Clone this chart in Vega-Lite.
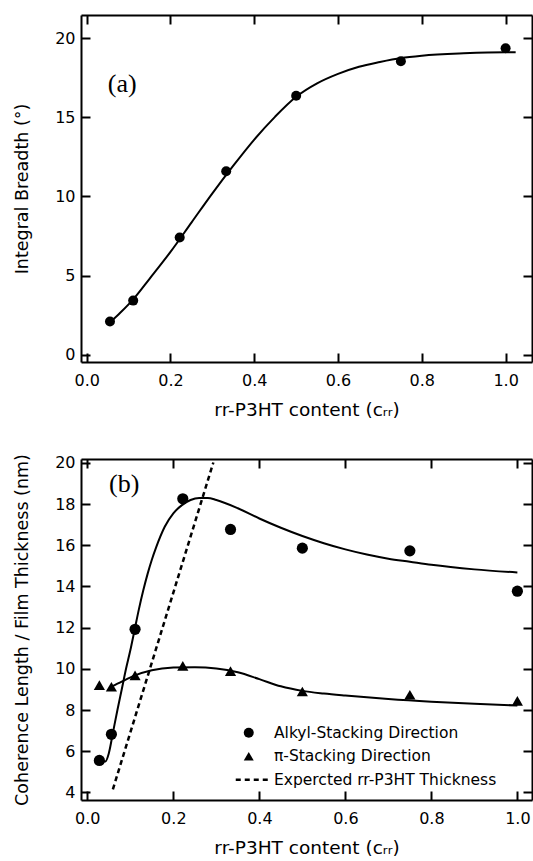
{
  "$schema": "https://vega.github.io/schema/vega-lite/v6.json",
  "background": "white",
  "padding": {"left": 13, "top": 14, "right": 0, "bottom": 0},
  "spacing": 34,
  "config": {
    "font": "DejaVu Sans",
    "view": {"stroke": null},
    "axis": {
      "domainColor": "black", "domainWidth": 2,
      "tickColor": "black", "tickWidth": 2, "tickSize": -9,
      "labelFont": "DejaVu Sans", "labelFontSize": 16, "labelColor": "black",
      "titleFont": "DejaVu Sans", "titleFontSize": 17.5, "titleFontWeight": "normal", "titleColor": "black",
      "grid": false, "labelPadding": 15
    },
    "axisX": {"labelPadding": 19, "titlePadding": 12, "titleFontSize": 18.5},
    "axisY": {"titlePadding": 23},
    "legend": {"labelFont": "DejaVu Sans", "labelFontSize": 15.5, "labelColor": "black", "labelLimit": 400}
  },
  "vconcat": [
    {
      "width": 451,
      "height": 347,
      "layer": [
        {
          "data": {"values": [
            {"c": 0.0556, "v": 2.1}, {"c": 0.111, "v": 3.42}, {"c": 0.222, "v": 7.41},
            {"c": 0.333, "v": 11.6}, {"c": 0.5, "v": 16.37}, {"c": 0.75, "v": 18.55}, {"c": 1.0, "v": 19.37}
          ]},
          "mark": {"type": "point", "filled": true, "color": "black", "opacity": 1, "size": 100},
          "encoding": {
            "x": {"field": "c", "type": "quantitative",
                  "scale": {"domain": [-0.0136, 1.063], "nice": false, "zero": false},
                  "axis": {"values": [0, 0.2, 0.4, 0.6, 0.8, 1.0], "format": ".1f", "title": "rr-P3HT content (cᵣᵣ)"}},
            "y": {"field": "v", "type": "quantitative",
                  "scale": {"domain": [-0.46, 21.47], "nice": false, "zero": false},
                  "axis": {"values": [0, 5, 10, 15, 20], "title": "Integral Breadth (°)"}}
          }
        },
        {
          "data": {"values": [
            {"c": 0.058, "v": 2.1}, {"c": 0.08, "v": 2.65}, {"c": 0.111, "v": 3.5}, {"c": 0.15, "v": 4.8},
            {"c": 0.2, "v": 6.5}, {"c": 0.25, "v": 8.35}, {"c": 0.3, "v": 10.2}, {"c": 0.35, "v": 11.95},
            {"c": 0.4, "v": 13.6}, {"c": 0.45, "v": 15.05}, {"c": 0.5, "v": 16.3}, {"c": 0.55, "v": 17.15},
            {"c": 0.6, "v": 17.75}, {"c": 0.65, "v": 18.2}, {"c": 0.7, "v": 18.5}, {"c": 0.75, "v": 18.75},
            {"c": 0.8, "v": 18.9}, {"c": 0.9, "v": 19.05}, {"c": 1.0, "v": 19.12}, {"c": 1.024, "v": 19.12}
          ]},
          "mark": {"type": "line", "color": "black", "strokeWidth": 2, "interpolate": "monotone"},
          "encoding": {
            "x": {"field": "c", "type": "quantitative",
                  "axis": {"orient": "top", "labels": false, "title": null, "values": [0, 0.2, 0.4, 0.6, 0.8, 1.0]}},
            "y": {"field": "v", "type": "quantitative",
                  "axis": {"orient": "right", "labels": false, "title": null, "values": [0, 5, 10, 15, 20]}}
          }
        },
        {
          "data": {"values": [{}]},
          "mark": {"type": "text", "font": "Liberation Serif", "fontSize": 26, "align": "left", "baseline": "alphabetic", "color": "black"},
          "encoding": {
            "x": {"datum": 0.0504, "type": "quantitative", "axis": null},
            "y": {"datum": 16.63, "type": "quantitative", "axis": null},
            "text": {"value": "(a)"}
          }
        }
      ],
      "resolve": {"axis": {"x": "independent", "y": "independent"}}
    },
    {
      "width": 451,
      "height": 341,
      "layer": [
        {
          "data": {"values": [
            {"c": 0.028, "v": 5.55, "series": "Alkyl-Stacking Direction"},
            {"c": 0.056, "v": 6.82, "series": "Alkyl-Stacking Direction"},
            {"c": 0.111, "v": 11.92, "series": "Alkyl-Stacking Direction"},
            {"c": 0.222, "v": 18.26, "series": "Alkyl-Stacking Direction"},
            {"c": 0.333, "v": 16.77, "series": "Alkyl-Stacking Direction"},
            {"c": 0.5, "v": 15.86, "series": "Alkyl-Stacking Direction"},
            {"c": 0.75, "v": 15.73, "series": "Alkyl-Stacking Direction"},
            {"c": 1.0, "v": 13.77, "series": "Alkyl-Stacking Direction"},
            {"c": 0.028, "v": 9.21, "series": "π-Stacking Direction"},
            {"c": 0.056, "v": 9.13, "series": "π-Stacking Direction"},
            {"c": 0.111, "v": 9.68, "series": "π-Stacking Direction"},
            {"c": 0.222, "v": 10.14, "series": "π-Stacking Direction"},
            {"c": 0.333, "v": 9.89, "series": "π-Stacking Direction"},
            {"c": 0.5, "v": 8.9, "series": "π-Stacking Direction"},
            {"c": 0.75, "v": 8.74, "series": "π-Stacking Direction"},
            {"c": 1.0, "v": 8.44, "series": "π-Stacking Direction"}
          ]},
          "mark": {"type": "point", "filled": true, "color": "black", "opacity": 1, "size": 125},
          "encoding": {
            "x": {"field": "c", "type": "quantitative",
                  "scale": {"domain": [-0.0147, 1.034], "nice": false, "zero": false},
                  "axis": {"values": [0, 0.2, 0.4, 0.6, 0.8, 1.0], "format": ".1f", "title": "rr-P3HT content (cᵣᵣ)"}},
            "y": {"field": "v", "type": "quantitative",
                  "scale": {"domain": [3.63, 20.19], "nice": false, "zero": false},
                  "axis": {"values": [4, 6, 8, 10, 12, 14, 16, 18, 20], "title": "Coherence Length / Film Thickness (nm)"}},
            "shape": {"field": "series", "type": "nominal",
                      "scale": {"domain": ["Alkyl-Stacking Direction", "π-Stacking Direction", "Expercted rr-P3HT Thickness"],
                                "range": ["circle", "triangle-up", "M-2.6,-0.25H-1.6V0.25H-2.6ZM-0.8,-0.25H0.2V0.25H-0.8ZM1,-0.25H2V0.25H1ZM2.8,-0.25H3.8V0.25H2.8Z"]},
                      "legend": {"title": null, "orient": "none", "legendX": 160, "legendY": 710, "symbolSize": 100,
                                 "symbolFillColor": "black", "symbolStrokeWidth": 0,
                                 "labelOffset": 17.5, "rowPadding": 6.5, "padding": 0}}
          }
        },
        {
          "data": {"values": [
            {"c": 0.028, "v": 5.5, "s": "a"}, {"c": 0.042, "v": 5.5, "s": "a"}, {"c": 0.05, "v": 5.9, "s": "a"},
            {"c": 0.06, "v": 6.95, "s": "a"}, {"c": 0.07, "v": 8.0, "s": "a"}, {"c": 0.08, "v": 9.0, "s": "a"},
            {"c": 0.09, "v": 10.0, "s": "a"}, {"c": 0.1, "v": 10.9, "s": "a"}, {"c": 0.11, "v": 11.9, "s": "a"},
            {"c": 0.12, "v": 12.9, "s": "a"}, {"c": 0.13, "v": 13.8, "s": "a"}, {"c": 0.14, "v": 14.6, "s": "a"},
            {"c": 0.15, "v": 15.3, "s": "a"}, {"c": 0.16, "v": 15.9, "s": "a"}, {"c": 0.18, "v": 16.9, "s": "a"},
            {"c": 0.2, "v": 17.55, "s": "a"}, {"c": 0.22, "v": 17.95, "s": "a"}, {"c": 0.24, "v": 18.2, "s": "a"},
            {"c": 0.26, "v": 18.3, "s": "a"}, {"c": 0.28, "v": 18.3, "s": "a"}, {"c": 0.3, "v": 18.2, "s": "a"},
            {"c": 0.35, "v": 17.8, "s": "a"}, {"c": 0.4, "v": 17.3, "s": "a"}, {"c": 0.45, "v": 16.85, "s": "a"},
            {"c": 0.5, "v": 16.45, "s": "a"}, {"c": 0.55, "v": 16.1, "s": "a"}, {"c": 0.6, "v": 15.8, "s": "a"},
            {"c": 0.65, "v": 15.55, "s": "a"}, {"c": 0.7, "v": 15.35, "s": "a"}, {"c": 0.75, "v": 15.2, "s": "a"},
            {"c": 0.8, "v": 15.05, "s": "a"}, {"c": 0.9, "v": 14.83, "s": "a"}, {"c": 1.0, "v": 14.68, "s": "a"},
            {"c": 0.056, "v": 9.13, "s": "p"}, {"c": 0.08, "v": 9.38, "s": "p"}, {"c": 0.111, "v": 9.68, "s": "p"},
            {"c": 0.15, "v": 9.93, "s": "p"}, {"c": 0.2, "v": 10.06, "s": "p"}, {"c": 0.25, "v": 10.08, "s": "p"},
            {"c": 0.3, "v": 10.02, "s": "p"}, {"c": 0.35, "v": 9.83, "s": "p"}, {"c": 0.4, "v": 9.5, "s": "p"},
            {"c": 0.45, "v": 9.15, "s": "p"}, {"c": 0.5, "v": 8.93, "s": "p"}, {"c": 0.55, "v": 8.8, "s": "p"},
            {"c": 0.6, "v": 8.7, "s": "p"}, {"c": 0.7, "v": 8.53, "s": "p"}, {"c": 0.8, "v": 8.4, "s": "p"},
            {"c": 0.9, "v": 8.3, "s": "p"}, {"c": 1.0, "v": 8.22, "s": "p"}
          ]},
          "mark": {"type": "line", "color": "black", "strokeWidth": 2, "interpolate": "monotone"},
          "encoding": {
            "x": {"field": "c", "type": "quantitative",
                  "axis": {"orient": "top", "labels": false, "title": null, "values": [0, 0.2, 0.4, 0.6, 0.8, 1.0]}},
            "y": {"field": "v", "type": "quantitative",
                  "axis": {"orient": "right", "labels": false, "title": null, "values": [4, 6, 8, 10, 12, 14, 16, 18, 20]}},
            "detail": {"field": "s", "type": "nominal"}
          }
        },
        {
          "data": {"values": [{"c": 0.0594, "v": 4.15}, {"c": 0.293, "v": 20.02}]},
          "mark": {"type": "line", "color": "black", "strokeWidth": 2.5, "strokeDash": [5, 3.5]},
          "encoding": {
            "x": {"field": "c", "type": "quantitative", "axis": null},
            "y": {"field": "v", "type": "quantitative", "axis": null}
          }
        },
        {
          "data": {"values": [{}]},
          "mark": {"type": "text", "font": "Liberation Serif", "fontSize": 26, "align": "left", "baseline": "alphabetic", "color": "black"},
          "encoding": {
            "x": {"datum": 0.0505, "type": "quantitative", "axis": null},
            "y": {"datum": 18.58, "type": "quantitative", "axis": null},
            "text": {"value": "(b)"}
          }
        }
      ],
      "resolve": {"axis": {"x": "independent", "y": "independent"}}
    }
  ]
}
